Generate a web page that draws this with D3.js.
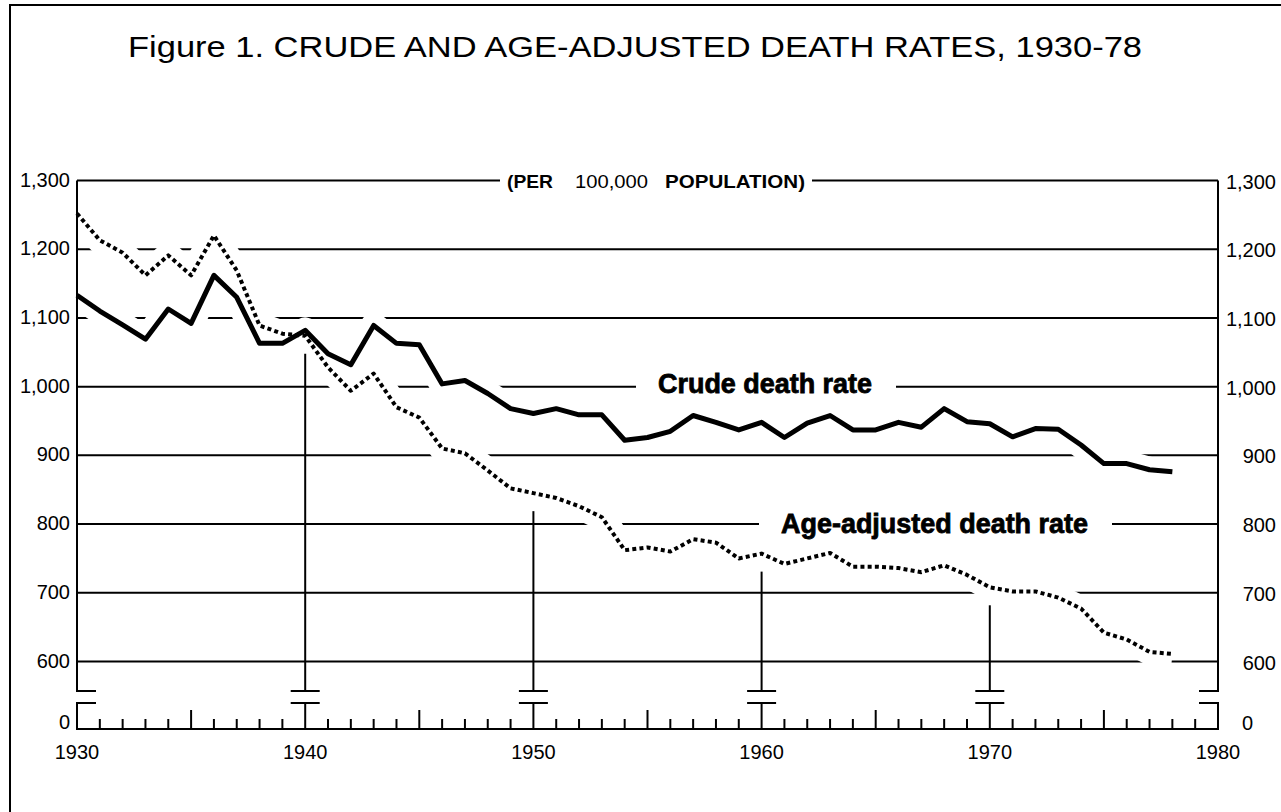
<!DOCTYPE html>
<html>
<head>
<meta charset="utf-8">
<script src="https://cdn.jsdelivr.net/npm/d3@7"></script>
<style>
  body { margin: 0; background: #fff; }
  text { font-family: "Liberation Sans", Arial, Helvetica, sans-serif; fill: #000; }
</style>
</head>
<body>
<svg id="chart" width="1281" height="812"></svg>
<script>
// DATA (per 100,000 population)
const years = [1930, 1931, 1932, 1933, 1934, 1935, 1936, 1937, 1938, 1939,
  1940, 1941, 1942, 1943, 1944, 1945, 1946, 1947, 1948, 1949,
  1950, 1951, 1952, 1953, 1954, 1955, 1956, 1957, 1958, 1959,
  1960, 1961, 1962, 1963, 1964, 1965, 1966, 1967, 1968, 1969,
  1970, 1971, 1972, 1973, 1974, 1975, 1976, 1977, 1978];

const crudeRate = [1133, 1110, 1090, 1069, 1113, 1092, 1162, 1130, 1063, 1063,
  1082, 1048, 1032, 1089, 1063, 1061, 1004, 1009, 990, 968,
  961, 968, 959, 959, 922, 926, 935, 958, 948, 937,
  948, 926, 947, 958, 937, 937, 948, 941, 968, 949,
  946, 927, 939, 938, 915, 888, 888, 879, 876];

const ageAdjustedRate = [1252, 1213, 1195, 1162, 1191, 1162, 1220, 1169, 1089, 1077,
  1074, 1028, 994, 1019, 970, 955, 910, 903, 878, 852,
  845, 838, 826, 810, 762, 766, 760, 778, 773, 750,
  757, 742, 750, 758, 738, 738, 736, 730, 740, 726,
  708, 702, 702, 693, 677, 642, 632, 614, 611];

const yTicks = [600, 700, 800, 900, 1000, 1100, 1200, 1300];
const decadeTicks = [1930, 1940, 1950, 1960, 1970, 1980];

const svg = d3.select("#chart");

// scales
const x = d3.scaleLinear().domain([1930, 1980]).range([77, 1218]);
const y = d3.scaleLinear().domain([600, 1300]).range([661.5, 180.5]);
// axis break and zero line below it
const breakTop = 691, breakBottom = 703, zeroY = 729;
const bracket = 19;

const fmt = d3.format(",");

// frame
svg.append("path")
  .attr("d", "M10,812V5H1281")
  .attr("fill", "none").attr("stroke", "#000").attr("stroke-width", 2);

// title
svg.append("text")
  .attr("x", 128).attr("y", 57)
  .attr("font-size", 29)
  .attr("textLength", 1014).attr("lengthAdjust", "spacingAndGlyphs")
  .text("Figure 1. CRUDE AND AGE-ADJUSTED DEATH RATES, 1930-78");

// gridlines
svg.append("g").selectAll("line")
  .data(yTicks)
  .join("line")
  .attr("x1", x(1930)).attr("x2", x(1980))
  .attr("y1", d => y(d)).attr("y2", d => y(d))
  .attr("stroke", "#000").attr("stroke-width", 2);

// series
const crude = years.map((yr, i) => ({ year: yr, value: crudeRate[i] }));
const adjusted = years.map((yr, i) => ({ year: yr, value: ageAdjustedRate[i] }));

const line = d3.line().x(d => x(d.year)).y(d => y(d.value));

// white halos cut the gridlines where the curves pass
const halos = svg.append("g");
[crude, adjusted].forEach(s => {
  halos.append("path")
    .attr("d", line(s))
    .attr("fill", "none")
    .attr("stroke", "#fff")
    .attr("stroke-width", 26)
    .attr("stroke-linejoin", "round")
    .attr("stroke-linecap", "butt");
});

// axes with break
const axes = svg.append("g")
  .attr("fill", "none").attr("stroke", "#000").attr("stroke-width", 2);

axes.append("path")
  .attr("d", `M${x(1930)},${y(1300)}V${breakTop}H${x(1930) + bracket}`);
axes.append("path")
  .attr("d", `M${x(1980) - bracket},${breakTop}H${x(1980)}V${y(1300)}`);
axes.append("path")
  .attr("d", `M${x(1930) + bracket},${breakBottom}H${x(1930)}V${zeroY}H${x(1980)}V${breakBottom}H${x(1980) - bracket}`);

// year ticks along the zero line
const tickYears = d3.range(1931, 1980).filter(d => d % 10 !== 0);
axes.selectAll(".tick")
  .data(tickYears)
  .join("line")
  .attr("class", "tick")
  .attr("x1", d => x(d)).attr("x2", d => x(d))
  .attr("y1", zeroY)
  .attr("y2", d => d % 5 === 0 ? zeroY - 19 : zeroY - 10);

// decade lines rising to just under the lower curve
const inner = decadeTicks.slice(1, -1);
const ageAt = yr => ageAdjustedRate[years.indexOf(yr)];
inner.forEach(yr => {
  const cx = x(yr);
  axes.append("line")
    .attr("x1", cx).attr("x2", cx)
    .attr("y1", y(ageAt(yr)) + 18).attr("y2", breakTop);
  axes.append("line")
    .attr("x1", cx - 14.5).attr("x2", cx + 14.5)
    .attr("y1", breakTop).attr("y2", breakTop);
  axes.append("line")
    .attr("x1", cx - 14.5).attr("x2", cx + 14.5)
    .attr("y1", breakBottom).attr("y2", breakBottom);
  axes.append("line")
    .attr("x1", cx).attr("x2", cx)
    .attr("y1", breakBottom).attr("y2", zeroY);
});

// tick labels
const labels = svg.append("g").attr("font-size", 20);

labels.selectAll(".yl")
  .data(yTicks)
  .join("text")
  .attr("class", "yl")
  .attr("x", 70).attr("y", d => y(d) + 6)
  .attr("text-anchor", "end")
  .text(d => fmt(d));

labels.selectAll(".yr")
  .data(yTicks)
  .join("text")
  .attr("class", "yr")
  .attr("x", 1276).attr("y", d => y(d) + 8)
  .attr("text-anchor", "end")
  .text(d => fmt(d));

labels.append("text")
  .attr("x", 70).attr("y", zeroY).attr("text-anchor", "end").text("0");
labels.append("text")
  .attr("x", 1242).attr("y", zeroY + 1).text("0");

labels.selectAll(".xl")
  .data(decadeTicks)
  .join("text")
  .attr("class", "xl")
  .attr("x", d => x(d)).attr("y", 759)
  .attr("text-anchor", "middle")
  .text(d => d);

// unit label, set into the 1,300 gridline
svg.append("rect")
  .attr("x", 500).attr("y", y(1300) - 4).attr("width", 312).attr("height", 8)
  .attr("fill", "#fff");
const unit = svg.append("g").attr("font-size", 18).attr("font-weight", "bold");
unit.append("text").attr("x", 507).attr("y", 188)
  .attr("textLength", 46).attr("lengthAdjust", "spacingAndGlyphs").text("(PER");
unit.append("text").attr("x", 575).attr("y", 188).attr("font-weight", "normal")
  .attr("textLength", 73).attr("lengthAdjust", "spacingAndGlyphs").text("100,000");
unit.append("text").attr("x", 665).attr("y", 188)
  .attr("textLength", 140).attr("lengthAdjust", "spacingAndGlyphs").text("POPULATION)");

// series labels, set into gridlines
function seriesLabel(text, x0, width, base) {
  svg.append("rect")
    .attr("x", x0 - 22).attr("y", base - 22)
    .attr("width", width + 46).attr("height", 28)
    .attr("fill", "#fff");
  svg.append("text")
    .attr("x", x0).attr("y", base)
    .attr("font-size", 27).attr("font-weight", "bold")
    .attr("stroke", "#000").attr("stroke-width", 0.8)
    .attr("textLength", width).attr("lengthAdjust", "spacingAndGlyphs")
    .text(text);
}
seriesLabel("Crude death rate", 658, 214, 393);
seriesLabel("Age-adjusted death rate", 781, 307, 533);

// curves
svg.append("path")
  .attr("d", line(crude))
  .attr("fill", "none")
  .attr("stroke", "#000")
  .attr("stroke-width", 5)
  .attr("stroke-linejoin", "round");

svg.append("path")
  .attr("d", line(adjusted))
  .attr("fill", "none")
  .attr("stroke", "#000")
  .attr("stroke-width", 4)
  .attr("stroke-dasharray", "4,3.2")
  .attr("stroke-linejoin", "round");
</script>
</body>
</html>
